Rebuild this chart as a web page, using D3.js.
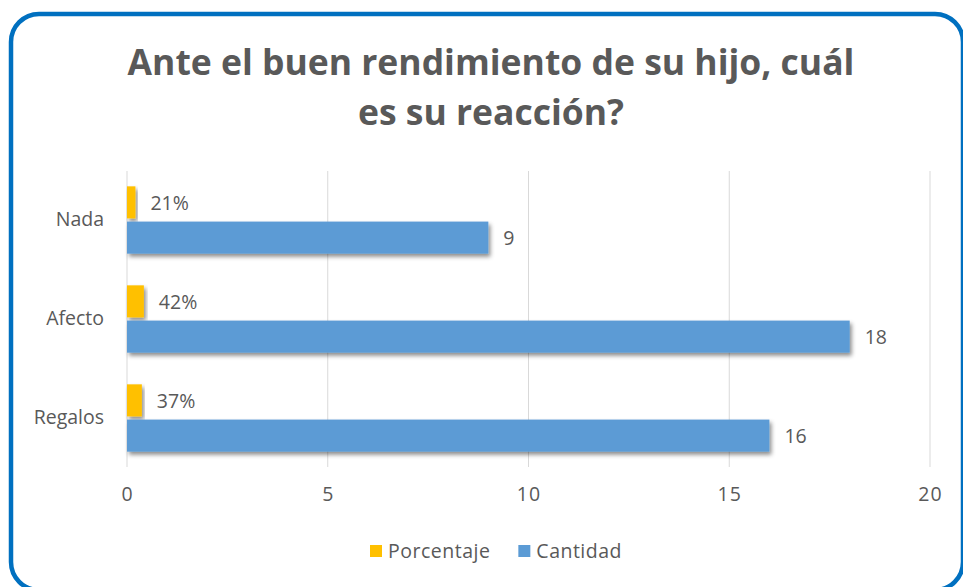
<!DOCTYPE html>
<html>
<head>
<meta charset="utf-8">
<script src="https://cdn.jsdelivr.net/npm/d3@7"></script>
<style>
  html, body { margin: 0; padding: 0; background: #ffffff; }
  svg { display: block; }
</style>
</head>
<body>
<div id="chart"></div>
<script>
// chart data
const categories = ["Nada", "Afecto", "Regalos"];
const seriesNames = ["Porcentaje", "Cantidad"];
const porcentaje = [0.21, 0.42, 0.37];
const cantidad = [9, 18, 16];
const xTicks = [0, 5, 10, 15, 20];
const titleLines = ["Ante el buen rendimiento de su hijo, cuál", "es su reacción?"];

const W = 963, H = 587;
const colors = { Porcentaje: "#FFC000", Cantidad: "#5B9BD5" };
const textColor = "#595959";
const font = "'Open Sans', 'Noto Sans', sans-serif";
const labelSize = "19.5px";

const svg = d3.select("#chart").append("svg")
  .attr("width", W)
  .attr("height", H);

// drop shadow for the bars
const filter = svg.append("defs").append("filter")
  .attr("id", "shadow")
  .attr("x", "-10%").attr("y", "-30%")
  .attr("width", "130%").attr("height", "180%");
filter.append("feDropShadow")
  .attr("dx", 2).attr("dy", 3)
  .attr("stdDeviation", 2)
  .attr("flood-color", "#000")
  .attr("flood-opacity", 0.45);

// rounded frame
svg.append("rect")
  .attr("x", 11).attr("y", 14)
  .attr("width", 952).attr("height", 576)
  .attr("rx", 28).attr("ry", 28)
  .attr("fill", "#fff")
  .attr("stroke", "#0070C0")
  .attr("stroke-width", 4.5);

// title
const title = svg.append("g");
titleLines.forEach((t, i) => {
  title.append("text")
    .attr("x", 491)
    .attr("y", 75 + i * 50)
    .attr("text-anchor", "middle")
    .style("font-family", font)
    .style("font-weight", "bold")
    .style("font-size", "32px")
    .attr("fill", textColor)
    .text(t);
});
// fit title width to the reference
const firstLine = title.select("text").node();
const fs = 32 * 727 / firstLine.getComputedTextLength();
title.selectAll("text").style("font-size", fs + "px");

// scales
const x = d3.scaleLinear().domain([0, 20]).range([127, 930]);
const y = d3.scaleBand().domain(categories).range([170.5, 467.5])
  .paddingInner(0.32).paddingOuter(0.16);
const yInner = d3.scaleBand().domain(seriesNames).range([0, y.bandwidth()])
  .paddingInner(0.09);

// gridlines
svg.append("g").selectAll("line")
  .data(xTicks)
  .enter().append("line")
  .attr("x1", d => x(d)).attr("x2", d => x(d))
  .attr("y1", 171).attr("y2", 467)
  .attr("stroke", "#d9d9d9")
  .attr("stroke-width", 1);

// x axis labels
const xAxis = svg.append("g")
  .attr("transform", "translate(0,487)")
  .call(d3.axisBottom(x).tickValues(xTicks).tickSize(0).tickPadding(0));
xAxis.select(".domain").remove();
xAxis.selectAll("text")
  .style("font-family", font)
  .style("font-size", labelSize)
  .style("letter-spacing", "1px")
  .attr("fill", textColor);

// y axis labels
const yAxis = svg.append("g")
  .attr("transform", "translate(104,0)")
  .call(d3.axisLeft(y).tickSize(0).tickPadding(0));
yAxis.select(".domain").remove();
yAxis.selectAll("text")
  .style("font-family", font)
  .style("font-size", labelSize)
  .attr("fill", textColor);

// bars
const rows = categories.map((c, i) => ({
  cat: c,
  values: [
    { key: "Porcentaje", value: porcentaje[i], label: d3.format(".0%")(porcentaje[i]) },
    { key: "Cantidad", value: cantidad[i], label: String(cantidad[i]) }
  ]
}));

const groups = svg.append("g").selectAll("g")
  .data(rows)
  .enter().append("g")
  .attr("transform", d => "translate(0," + y(d.cat) + ")");

groups.selectAll("rect")
  .data(d => d.values)
  .enter().append("rect")
  .attr("x", x(0))
  .attr("y", d => yInner(d.key))
  .attr("width", d => x(d.value) - x(0))
  .attr("height", yInner.bandwidth())
  .attr("fill", d => colors[d.key])
  .style("filter", "url(#shadow)");

groups.selectAll("text")
  .data(d => d.values)
  .enter().append("text")
  .attr("x", d => x(d.value) + 15)
  .attr("y", d => yInner(d.key) + yInner.bandwidth() / 2 + 1)
  .attr("dy", "0.35em")
  .style("font-family", font)
  .style("font-size", labelSize)
  .attr("fill", textColor)
  .text(d => d.label);

// legend
const legend = svg.append("g").attr("transform", "translate(370,551)");
let lx = 0;
seriesNames.forEach(s => {
  const item = legend.append("g").attr("transform", "translate(" + lx + ",0)");
  item.append("rect")
    .attr("x", 0).attr("y", -6)
    .attr("width", 12).attr("height", 12)
    .attr("fill", colors[s]);
  const t = item.append("text")
    .attr("x", 18).attr("y", 0)
    .attr("dy", "0.35em")
    .style("font-family", font)
    .style("font-size", labelSize)
    .style("letter-spacing", "0.5px")
    .attr("fill", textColor)
    .text(s);
  lx += 18 + t.node().getComputedTextLength() + 28;
});
</script>
</body>
</html>
